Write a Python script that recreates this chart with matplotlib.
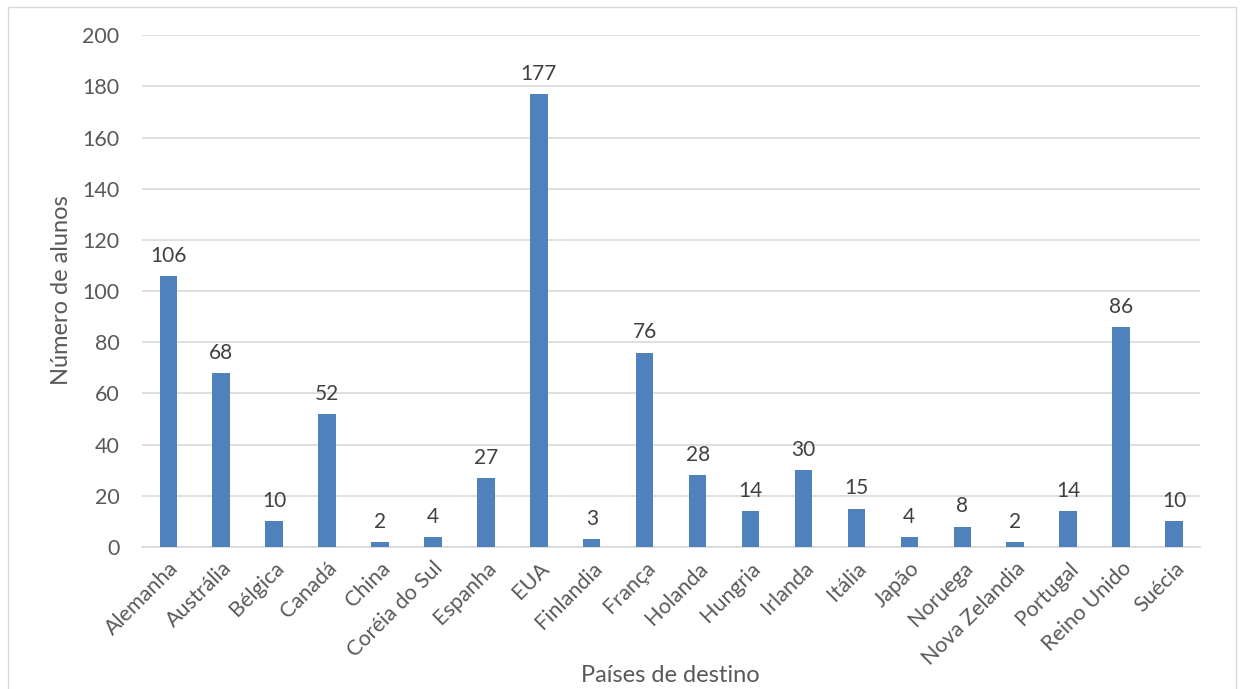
import matplotlib
matplotlib.use("Agg")
import matplotlib.pyplot as plt
from matplotlib.patches import Rectangle

# dados
paises = ["Alemanha", "Austrália", "Bélgica", "Canadá", "China", "Coréia do Sul",
          "Espanha", "EUA", "Finlandia", "França", "Holanda", "Hungria", "Irlanda",
          "Itália", "Japão", "Noruega", "Nova Zelandia", "Portugal", "Reino Unido",
          "Suécia"]
alunos = [106, 68, 10, 52, 2, 4, 27, 177, 3, 76, 28, 14, 30, 15, 4, 8, 2, 14, 86, 10]

plt.rcParams["font.family"] = ["Lato", "DejaVu Sans"]
cinza = "#595959"

fig = plt.figure(figsize=(12.44, 6.89), dpi=100)
ax = fig.add_axes([0.114, 0.206, 0.851, 0.743])

x = range(len(paises))
bars = ax.bar(x, alunos, width=0.33, color="#4f81bd", zorder=3)

for b, v in zip(bars, alunos):
    ax.text(b.get_x() + b.get_width() / 2, v + 4, str(v), ha="center", va="bottom",
            fontsize=15, color="#404040")

ax.set_ylim(0, 200)
ax.set_xlim(-0.5, len(paises) - 0.5)
ax.set_yticks(range(0, 201, 20))
ax.grid(axis="y", color="#d9d9d9", linewidth=1.2, zorder=0)
ax.set_xticks(list(x))
ax.set_xticklabels(paises, rotation=45, ha="right", rotation_mode="anchor")
ax.tick_params(axis="both", length=0, labelsize=15.5, labelcolor=cinza)
ax.tick_params(axis="y", pad=16)
ax.tick_params(axis="x", pad=8)

for s in ["top", "right", "left"]:
    ax.spines[s].set_visible(False)
ax.spines["bottom"].set_color("#d9d9d9")
ax.spines["bottom"].set_linewidth(1.2)

# títulos dos eixos
fig.text(670 / 1244, 1 - 675 / 689, "Países de destino", fontsize=17, color=cinza,
         ha="center", va="center")
fig.text(62 / 1244, 1 - 290 / 689, "Número de alunos", fontsize=17, color=cinza,
         ha="center", va="center", rotation=90)

# moldura do gráfico
fig.patches.append(Rectangle((8 / 1244, -0.01), 1228 / 1244, 1 - 7 / 689 + 0.01,
                             transform=fig.transFigure, fill=False,
                             edgecolor="#d9d9d9", linewidth=1))

fig.savefig("out.png", dpi=100)
